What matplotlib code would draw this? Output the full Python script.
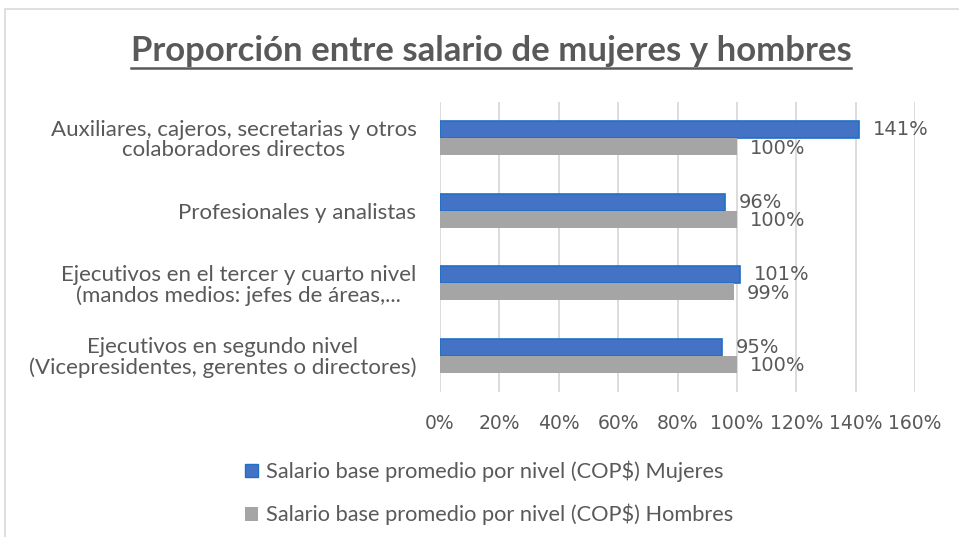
import matplotlib.pyplot as plt
import matplotlib.patches as mpatches
from matplotlib.lines import Line2D
import numpy as np

# data
categorias = [
    "Auxiliares, cajeros, secretarias y otros\ncolaboradores directos",
    "Profesionales y analistas",
    "Ejecutivos en el tercer y cuarto nivel\n(mandos medios: jefes de áreas,...",
    "Ejecutivos en segundo nivel\n(Vicepresidentes, gerentes o directores)",
]
mujeres = [141, 96, 101, 95]
hombres = [100, 100, 99, 100]
ticks = [0, 20, 40, 60, 80, 100, 120, 140, 160]

serie_m = "Salario base promedio por nivel (COP$) Mujeres"
serie_h = "Salario base promedio por nivel (COP$) Hombres"

gris_txt = "#595959"
azul = "#4472C4"
azul_borde = "#1F6FC5"
gris = "#A5A5A5"

plt.rcParams['font.family'] = ['Lato', 'DejaVu Sans']
num_font = ['DejaVu Sans']  # numbers in the reference are wider than the rest

fig = plt.figure(figsize=(9.59, 5.37), dpi=100)
ax = fig.add_axes([440/959, 1-392/537, (915-440)/959, (392-102)/537])

y = np.arange(len(categorias))
h = 0.235
ax.barh(y - h/2, mujeres, height=h, color=azul, edgecolor=azul_borde, linewidth=1.2, zorder=3)
ax.barh(y + h/2, hombres, height=h, color=gris, zorder=3)

for i in range(len(categorias)):
    ax.annotate(f"{mujeres[i]}%", (mujeres[i], y[i] - h/2), xytext=(10, 0),
                textcoords="offset points", va="center", ha="left",
                fontsize=14, family=num_font, color=gris_txt)
    ax.annotate(f"{hombres[i]}%", (hombres[i], y[i] + h/2), xytext=(9, -1),
                textcoords="offset points", va="center", ha="left",
                fontsize=14, family=num_font, color=gris_txt)

ax.set_xlim(0, 160)
ax.set_ylim(len(categorias) - 0.5, -0.5)
ax.set_xticks(ticks)
ax.set_xticklabels([f"{t}%" for t in ticks], family=num_font)
ax.set_yticks(y)
ax.set_yticklabels(categorias, multialignment="center", linespacing=1.0)
ax.tick_params(axis="x", length=0, labelsize=13.5, labelcolor=gris_txt, pad=16)
ax.tick_params(axis="y", length=0, labelsize=16, labelcolor=gris_txt, pad=17)
ax.grid(axis="x", color="#D9D9D9", linewidth=1.3, zorder=0)
for s in ax.spines.values():
    s.set_visible(False)

# title with underline
t = fig.text(491/959, 1-51/537, "Proporción entre salario de mujeres y hombres",
             ha="center", va="center", fontsize=25, fontweight="bold", color=gris_txt)
fig.canvas.draw()
bb = t.get_window_extent().transformed(fig.transFigure.inverted())
fig.add_artist(Line2D([bb.x0, bb.x1], [bb.y0 - 0.002, bb.y0 - 0.002],
                      transform=fig.transFigure, color=gris_txt, linewidth=1.8))

# chart frame
fig.add_artist(mpatches.Rectangle((5/959, -0.05), 1.1, 1 - 9/537 + 0.05,
                                  transform=fig.transFigure, fill=False,
                                  edgecolor="#D9D9D9", linewidth=1.2))

handles = [mpatches.Patch(facecolor=azul, edgecolor=azul_borde, label=serie_m),
           mpatches.Patch(facecolor=gris, label=serie_h)]
fig.legend(handles=handles, loc="upper left", bbox_to_anchor=(225/959, 1-441/537),
           frameon=False, fontsize=15.7, labelcolor=gris_txt, handlelength=0.6,
           handleheight=0.6, handletextpad=0.4, labelspacing=1.0)

fig.savefig("out.png", dpi=100)
